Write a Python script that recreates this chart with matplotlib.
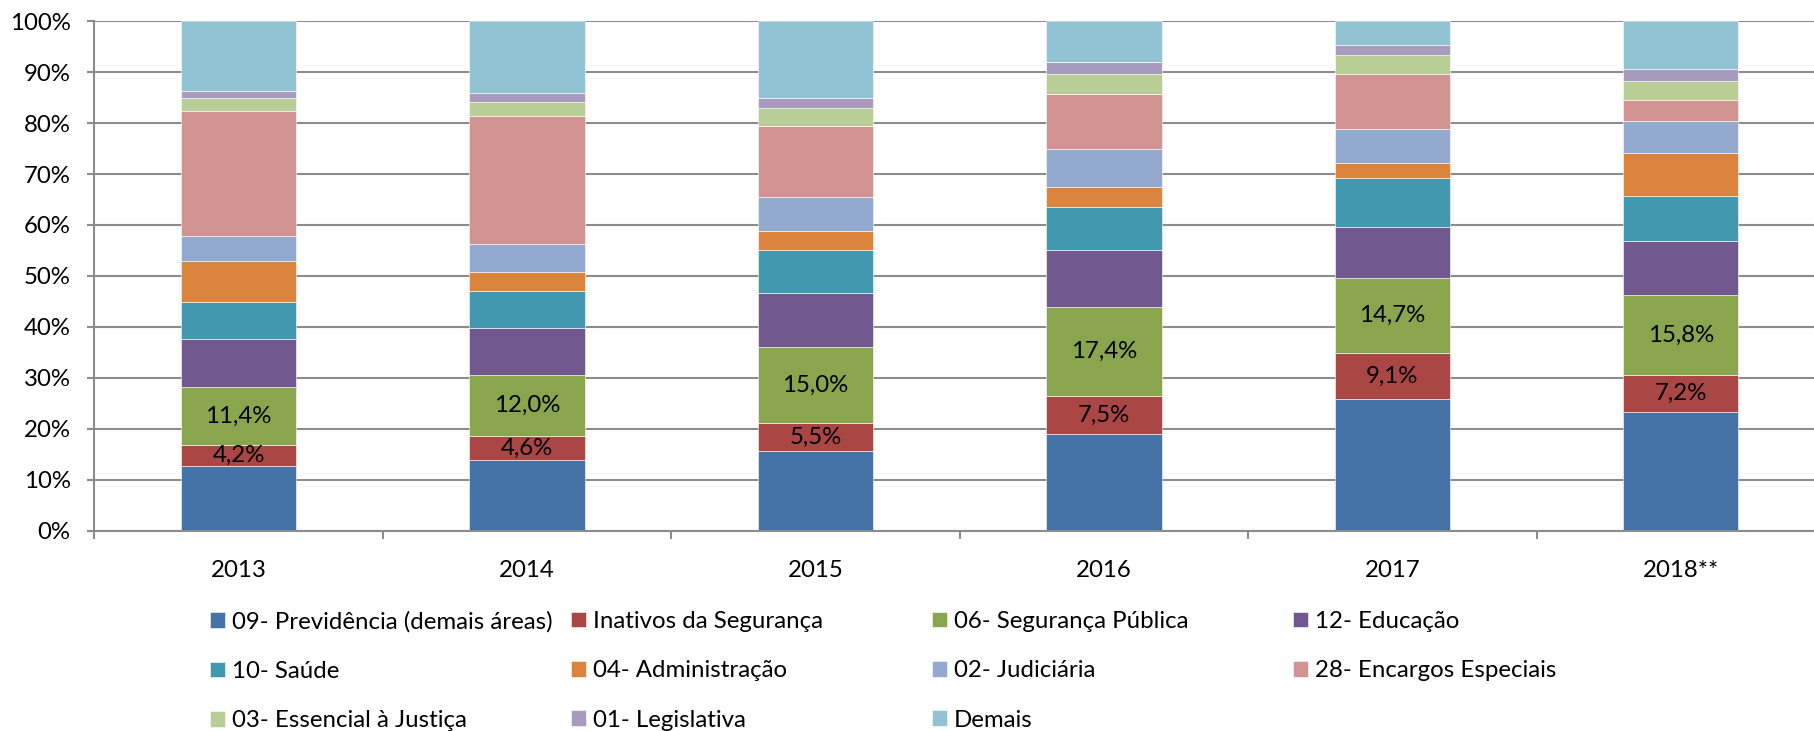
import numpy as np
import matplotlib.pyplot as plt
from matplotlib.ticker import PercentFormatter

plt.rcParams['font.family'] = ['Lato', 'DejaVu Sans']

# Data (share of total, %)
years = ['2013', '2014', '2015', '2016', '2017', '2018**']

prev = [12.6, 13.9, 15.6, 18.9, 25.8, 23.3]
inativos = [4.2, 4.6, 5.5, 7.5, 9.1, 7.2]
seguranca = [11.4, 12.0, 15.0, 17.4, 14.7, 15.8]
educacao = [9.4, 9.3, 10.5, 11.3, 10.0, 10.5]
saude = [7.2, 7.2, 8.5, 8.5, 9.7, 8.8]
administracao = [8.1, 3.7, 3.8, 3.8, 2.8, 8.5]
judiciaria = [5.0, 5.6, 6.5, 7.5, 6.7, 6.3]
encargos = [24.4, 25.2, 14.0, 10.9, 10.9, 4.1]
essencial = [2.6, 2.6, 3.5, 3.8, 3.6, 3.7]
legislativa = [1.5, 1.8, 2.0, 2.5, 2.0, 2.5]
demais = [13.6, 14.1, 15.1, 7.9, 4.7, 9.3]

series = [prev, inativos, seguranca, educacao, saude, administracao,
          judiciaria, encargos, essencial, legislativa, demais]
names = ['09- Previdência (demais áreas)', 'Inativos da Segurança',
         '06- Segurança Pública', '12- Educação', '10- Saúde',
         '04- Administração', '02- Judiciária', '28- Encargos Especiais',
         '03- Essencial à Justiça', '01- Legislativa', 'Demais']
colors = ['#4572A7', '#AA4643', '#89A54E', '#71588F', '#4198AF', '#DB843D',
          '#93A9CF', '#D19392', '#B9CD96', '#A99BBD', '#92C3D4']
labelled = [1, 2]  # series that carry data labels

W, H = 1814, 731
FS = 17.3
fig = plt.figure(figsize=(W / 100, H / 100), dpi=100)
ax = fig.add_axes([94.3 / W, (H - 530.5) / H, (1825 - 94.3) / W, (530.5 - 21.3) / H])

x = np.arange(len(years))
bottom = np.zeros(len(years))
handles = []
for i, (vals, name, col) in enumerate(zip(series, names, colors)):
    vals = np.array(vals)
    b = ax.bar(x, vals, 0.4, bottom=bottom, color=col, edgecolor='white',
               linewidth=0.4, label=name, zorder=2)
    handles.append(b)
    if i in labelled:
        ax.bar_label(b, labels=[f'{v:.1f}%'.replace('.', ',') for v in vals],
                     label_type='center', fontsize=FS, color='black')
    bottom += vals

ax.set_xlim(-0.5, len(years) - 0.5)
ax.set_ylim(0, 100)
ax.set_yticks(np.arange(0, 101, 10))
ax.yaxis.set_major_formatter(PercentFormatter(decimals=0))
ax.grid(axis='y', color='#8c8c8c', linewidth=1.5, zorder=0)
ax.set_axisbelow(True)

ax.set_xticks(x)
ax.set_xticklabels(years)
ax.set_xticks(np.arange(-0.5, len(years)), minor=True)
ax.tick_params(axis='x', which='major', length=0, pad=21, labelsize=FS)
ax.tick_params(axis='x', which='minor', length=6, width=1.5, color='#8c8c8c', direction='out')
ax.tick_params(axis='y', length=5, width=1.5, color='#8c8c8c', pad=12, labelsize=FS)

for s in ['top', 'right']:
    ax.spines[s].set_visible(False)
for s in ['left', 'bottom']:
    ax.spines[s].set_color('#8c8c8c')
    ax.spines[s].set_linewidth(1.5)

# legend: 4 columns, filled row by row
col_x = [210, 571, 932, 1293]
for c in range(4):
    idx = list(range(c, len(series), 4))
    fig.legend([handles[i] for i in idx], [names[i] for i in idx],
               loc='upper left', bbox_to_anchor=(col_x[c] / W, (H - 611) / H),
               frameon=False, fontsize=FS, handlelength=0.62, handleheight=0.62,
               handletextpad=0.3, labelspacing=1.18, borderpad=0, borderaxespad=0)

fig.savefig('out.png', dpi=100)
